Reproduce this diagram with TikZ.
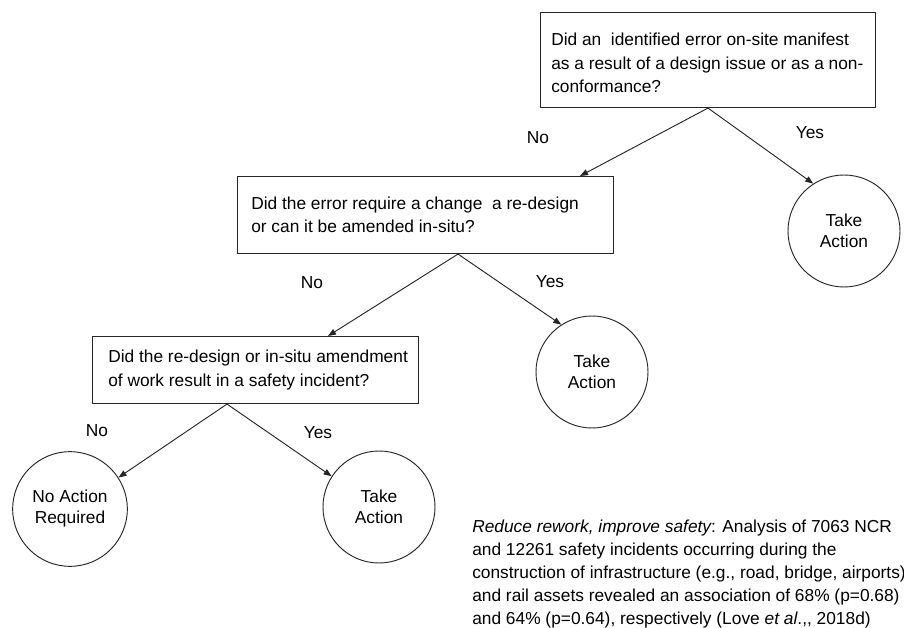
\documentclass[tikz,border=0pt]{standalone}
\usepackage{fontspec}
\setmainfont{Liberation Sans}
\usetikzlibrary{arrows.meta,calc}
\begin{document}
\begin{tikzpicture}[x=0.75pt,y=-0.75pt,
  every node/.style={font=\fontsize{13}{17.5}\selectfont},
  qbox/.style={draw=black!85, line width=0.8pt, rectangle, inner sep=0pt, anchor=north west},
  qtext/.style={align=left, inner sep=0pt, anchor=west},
  endnode/.style={draw=black!85, line width=0.7pt, circle, minimum size=84pt, inner sep=0pt, align=center, font=\fontsize{13}{15.75}\selectfont},
  lbl/.style={inner sep=0pt},
  arr/.style={draw=black!85, line width=0.7pt, -{Triangle[length=6pt,width=4.5pt]}}
]
\useasboundingbox (0,0) rectangle (904,628);
\fill[white] (0,0) rectangle (904,628);

% question boxes
\node[qbox, minimum width=251.25pt, minimum height=71.25pt] (b1) at (540,12) {};
\node[qtext] (t1) at ($(b1.west)+(11,3)$) {Did an\ \ identified error on-site manifest\\as a result of a design issue or as a non-\\conformance?};

\node[qbox, minimum width=282pt, minimum height=57.75pt] (b2) at (237,176) {};
\node[qtext] (t2) at ($(b2.west)+(14,0)$) {Did the error require a change\ \ a re-design\\or can it be amended\ in-situ?};

\node[qbox, minimum width=244.5pt, minimum height=50.25pt] (b3) at (92,336) {};
\node[qtext] (t3) at ($(b3.west)+(16,0)$) {Did the re-design or in-situ amendment\\of work result in\ a safety incident?};

% end circles
\node[endnode] (c1) at (844,231) {Take\\Action};
\node[endnode] (c2) at (592,372) {Take\\Action};
\node[endnode, minimum size=86pt] (c3) at (70,509) {No Action\\Required};
\node[endnode] (c4) at (379,507) {Take\\Action};

% branch points
\coordinate (a1) at ($(b1.south west)+(168,0)$);
\coordinate (a2) at ($(b2.south west)+(221,0)$);
\coordinate (a3) at ($(b3.south west)+(135,0)$);
\coordinate (b2in) at ($(b2.north west)+(343,0)$);
\coordinate (b3in) at ($(b3.north west)+(236,0)$);

% connectors
\draw[arr] (a1) -- (b2in);
\draw[arr] (a1) -- (c1.123);
\draw[arr] (a2) -- (b3in);
\draw[arr] (a2) -- (c2.123);
\draw[arr] (a3) -- (c3.33);
\draw[arr] (a3) -- (c4.147);

% labels
\node[lbl] (n1) at (538,138) {No};
\node[lbl] (y1) at (810,133) {Yes};
\node[lbl] (n2) at (312,283) {No};
\node[lbl] (y2) at (550,282) {Yes};
\node[lbl] (n3) at (97,431) {No};
\node[lbl] (y3) at (318,433) {Yes};

% note
\node[align=left, inner sep=0pt, anchor=base west, font=\fontsize{13}{17.25}\selectfont] (note) at (472,624)
{{\itshape Reduce rework, improve safety}: Analysis of 7063 NCR\\
and 12261 safety incidents occurring during the\\
construction of infrastructure (e.g., road, bridge, airports)\\
and rail assets revealed an association of 68\% (p=0.68)\\
and 64\% (p=0.64), respectively (Love {\itshape et al}.{,}{,} 2018d)};
\end{tikzpicture}
\end{document}
